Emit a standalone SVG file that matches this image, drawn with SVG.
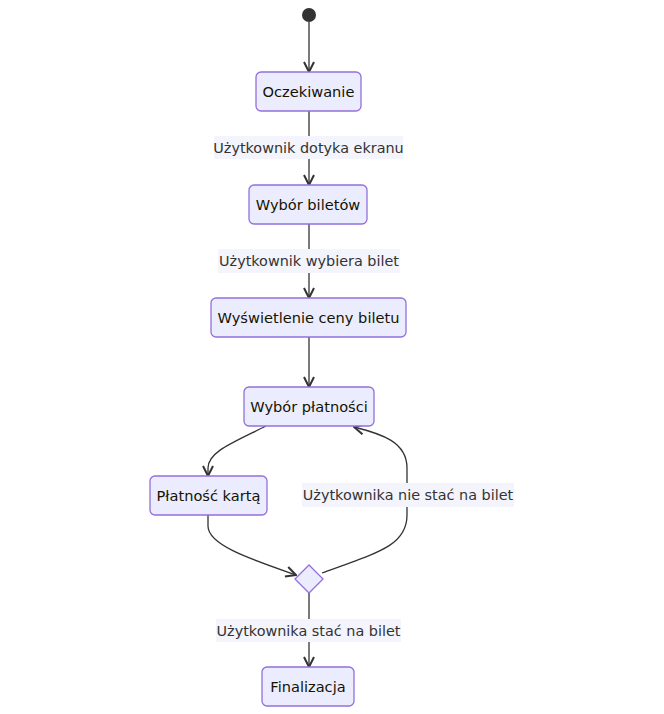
<svg xmlns="http://www.w3.org/2000/svg" width="664" height="714" viewBox="0 0 664 714">
<defs>
<marker id="arr" viewBox="0 0 12 12" refX="11" refY="6" markerWidth="12" markerHeight="12" markerUnits="userSpaceOnUse" orient="auto">
<path d="M1,1 L11,6 L1,11" fill="none" stroke="#333" stroke-width="2"/>
</marker>
<style>
.node rect{fill:#ECECFF;stroke:#9370DB;stroke-width:1.3}
.node polygon{fill:#ECECFF;stroke:#9370DB;stroke-width:1.3}
.nt{font-family:"DejaVu Sans",Verdana,sans-serif;font-size:14.6px;fill:#131300;text-anchor:middle;dominant-baseline:central}
.lt{font-family:"DejaVu Sans",Verdana,sans-serif;font-size:14.4px;fill:#333;text-anchor:middle;dominant-baseline:central}
.lb{fill:#F4F4FD}
.e{fill:none;stroke:#333;stroke-width:1.3;marker-end:url(#arr)}
</style>
</defs>
<rect width="664" height="714" fill="#fff"/>
<g id="connectors">
<path class="e" d="M309,22 L309,72"/>
<path class="e" d="M309,111 L309,185"/>
<path class="e" d="M309,224 L309,298"/>
<path class="e" d="M309,337 L309,387"/>
<path class="e" d="M266,426 C232,443 208,452 208,468 L208,476"/>
<path class="e" d="M208,515 L208,526 C208,545 250,559 296,575"/>
<path class="e" d="M322,573 C380,552 407,545 407,515 L407,468 C407,442 382,434 354,427"/>
<path class="e" d="M309,593 L309,667"/>
</g>
<g id="labels">
<g id="l1"><rect class="lb" x="214" y="136" width="189" height="23"/><text class="lt" x="308.5" y="147.5">Użytkownik dotyka ekranu</text></g>
<g id="l2"><rect class="lb" x="218" y="249" width="182" height="24"/><text class="lt" x="309" y="260.5">Użytkownik wybiera bilet</text></g>
<g id="l3"><rect class="lb" x="302" y="483" width="212" height="24"/><text class="lt" x="408" y="494.5">Użytkownika nie stać na bilet</text></g>
<g id="l4"><rect class="lb" x="216" y="619" width="185" height="23"/><text class="lt" x="308.5" y="630.5">Użytkownika stać na bilet</text></g>
</g>
<g id="start"><circle cx="309" cy="15" r="7" fill="#333"/></g>
<g id="oczekiwanie" class="node"><rect x="256" y="72" width="105" height="39" rx="5"/><text class="nt" x="308.5" y="91.5">Oczekiwanie</text></g>
<g id="wybor_biletow" class="node"><rect x="249" y="185" width="118" height="39" rx="5"/><text class="nt" x="308" y="204.5">Wybór biletów</text></g>
<g id="wyswietlenie" class="node"><rect x="211" y="298" width="195" height="39" rx="5"/><text class="nt" x="308.5" y="317.5">Wyświetlenie ceny biletu</text></g>
<g id="wybor_platnosci" class="node"><rect x="244" y="387" width="130" height="39" rx="5"/><text class="nt" x="309" y="406.5">Wybór płatności</text></g>
<g id="platnosc_karta" class="node"><rect x="150" y="476" width="117" height="39" rx="5"/><text class="nt" x="208.5" y="495.5">Płatność kartą</text></g>
<g id="choice" class="node"><polygon points="295,579 309,565 323,579 309,593"/></g>
<g id="finalizacja" class="node"><rect x="262" y="667" width="92" height="39" rx="5"/><text class="nt" x="308" y="686.5">Finalizacja</text></g>
</svg>
